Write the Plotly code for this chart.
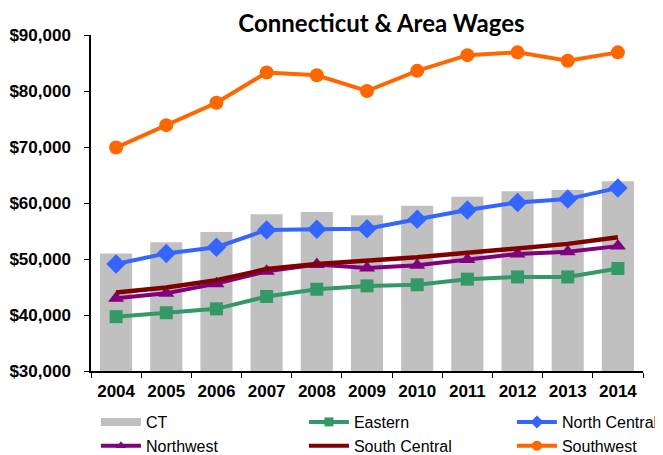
import plotly.graph_objects as go

years = ["2004", "2005", "2006", "2007", "2008", "2009", "2010", "2011", "2012", "2013", "2014"]
ct = [51000, 53000, 54800, 58000, 58400, 57800, 59500, 61100, 62100, 62300, 63900]
eastern = [39700, 40400, 41100, 43300, 44600, 45200, 45400, 46400, 46800, 46800, 48300]
north_central = [49100, 51000, 52100, 55200, 55300, 55400, 57100, 58750, 60100, 60700, 62700]
northwest = [43000, 43900, 45600, 47800, 49000, 48400, 48900, 49900, 50900, 51300, 52300]
south_central = [44000, 44900, 46200, 48200, 49100, 49600, 50300, 51100, 51900, 52700, 53900]
southwest = [69900, 73900, 77900, 83300, 82800, 80000, 83600, 86400, 86900, 85400, 86900]

fig = go.Figure()

BAR_COLOR = "#C0C0C0"
fig.add_trace(go.Bar(x=years, y=ct, name="CT", showlegend=False,
                     marker=dict(color=BAR_COLOR, line=dict(width=0))))

series = [
    ("Eastern", eastern, "#339966", "square", 13),
    ("North Central", north_central, "#3366FF", "diamond", 15),
    ("Northwest", northwest, "#800080", "triangle-up", 14),
    ("South Central", south_central, "#800000", None, 0),
    ("Southwest", southwest, "#FF6600", "circle", 14),
]
for name, vals, color, sym, size in series:
    if sym is None:
        fig.add_trace(go.Scatter(x=years, y=vals, name=name, mode="lines", showlegend=False,
                                 line=dict(color=color, width=4.5)))
    else:
        fig.add_trace(go.Scatter(x=years, y=vals, name=name, mode="lines+markers", showlegend=False,
                                 line=dict(color=color, width=4),
                                 marker=dict(symbol=sym, size=size, color=color,
                                             line=dict(width=0))))

# legend entries (drawn only in the legend, 3 columns x 2 rows like the original)
legend_items = [
    ("CT", BAR_COLOR, None, 0, 8),
    ("Eastern", "#339966", "square", 9, 4),
    ("North Central", "#3366FF", "diamond", 10, 4),
    ("Northwest", "#800080", "triangle-up", 9, 4),
    ("South Central", "#800000", None, 0, 4),
    ("Southwest", "#FF6600", "circle", 10, 4),
]
for name, color, sym, msize, lw in legend_items:
    if sym is None:
        fig.add_trace(go.Scatter(x=[None], y=[None], mode="lines", name=name,
                                 line=dict(color=color, width=lw)))
    else:
        fig.add_trace(go.Scatter(x=[None], y=[None], mode="lines+markers", name=name,
                                 line=dict(color=color, width=lw),
                                 marker=dict(symbol=sym, size=msize, color=color, line=dict(width=0))))

# the page adds an 8px body margin, so the figure is sized to fit the window
fig.update_layout(
    width=655, height=447,
    margin=dict(l=83, r=20, t=27, b=84, autoexpand=False),
    paper_bgcolor="white", plot_bgcolor="white",
    bargap=0.36,
    title=dict(text="<b>Connecticut & Area Wages</b>",
               font=dict(family="Lato", size=24, color="black"),
               xref="container", x=0.5702, xanchor="center", y=0.966, yanchor="middle"),
    font=dict(family="Liberation Sans", color="black"),
    showlegend=True,
    legend=dict(orientation="h", xref="paper", yref="paper",
                x=-0.0001, xanchor="left", y=-0.1012, yanchor="top",
                font=dict(family="Liberation Sans", size=16, color="black"),
                entrywidth=148, entrywidthmode="pixels", itemwidth=40, indentation=5,
                bgcolor="rgba(0,0,0,0)", borderwidth=0),
)

fig.update_xaxes(type="category", range=[-0.5, len(years) - 0.5],
                 showline=True, linecolor="black", linewidth=1.5,
                 ticks="outside", tickson="boundaries", ticklen=5, tickcolor="black",
                 ticklabelstandoff=4, automargin=False,
                 tickfont=dict(family="Liberation Sans", size=17, color="black", weight="bold"),
                 showgrid=False, zeroline=False)
fig.update_yaxes(range=[30000, 90000], dtick=10000, tickformat="$,.0f",
                 showline=True, linecolor="black", linewidth=1.5,
                 ticks="outside", ticklen=5, tickcolor="black",
                 ticklabelstandoff=10, automargin=False,
                 tickfont=dict(family="Liberation Sans", size=17, color="black", weight="bold"),
                 showgrid=False, zeroline=False)

fig.write_html("out.html")
